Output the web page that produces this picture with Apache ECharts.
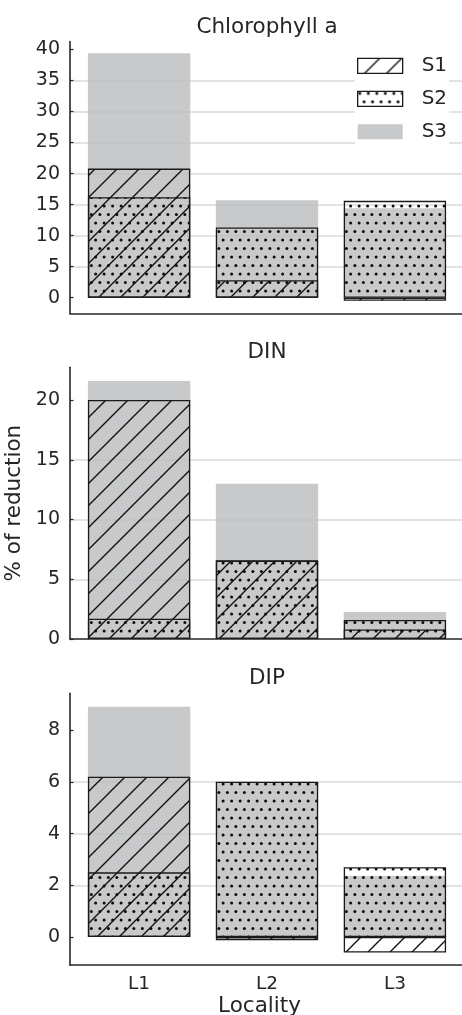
<!DOCTYPE html>
<html><head><meta charset="utf-8">
<script src="https://cdn.jsdelivr.net/npm/echarts@6/dist/echarts.min.js"></script>
<style>html,body{margin:0;padding:0;background:#fff}#c{width:462px;height:1015px}</style>
</head><body><div id="c"></div>
<script>
// ---- data ----
const categories = ['L1', 'L2', 'L3'];
const panelTitles = ['Chlorophyll a', 'DIN', 'DIP'];
const seriesNames = ['S1', 'S2', 'S3'];
const chlS1 = [20.8, 2.8, -0.5];
const chlS2 = [16.2, 11.3, 15.6];
const chlS3 = [39.4, 15.7, 14.4];
const dinS1 = [20.0, 6.6, 0.8];
const dinS2 = [1.7, 6.55, 1.6];
const dinS3 = [21.6, 13.0, 2.26];
const dipS1 = [6.2, -0.12, -0.6];
const dipS2 = [2.5, 6.0, 2.7];
const dipS3 = [8.9, 5.98, 2.37];
const chlTicks = [0, 5, 10, 15, 20, 25, 30, 35, 40];
const dinTicks = [0, 5, 10, 15, 20];
const dipTicks = [0, 2, 4, 6, 8];
const yLabel = '% of reduction';
const xLabel = 'Locality';

// ---- styling ----
const FONT = 'DejaVu Sans';
const TXT = '#262626';
const GRAY = 'rgba(186,187,190,0.8)';

function hatchPattern() {
  const s = 22, c = document.createElement('canvas');
  c.width = s; c.height = s;
  const g = c.getContext('2d');
  g.strokeStyle = '#0d0d0d'; g.lineWidth = 1.35;
  g.beginPath();
  g.moveTo(-2, s + 2); g.lineTo(s + 2, -2);
  g.moveTo(-3, 3); g.lineTo(3, -3);
  g.moveTo(s - 3, s + 3); g.lineTo(s + 3, s - 3);
  g.stroke();
  return { image: c, repeat: 'repeat' };
}
function dotPattern() {
  const s = 17, c = document.createElement('canvas');
  c.width = s; c.height = s;
  const g = c.getContext('2d');
  g.fillStyle = '#0d0d0d';
  [[2.1, 2.1], [10.6, 2.1], [6.35, 10.6], [14.85, 10.6]].forEach(p => {
    g.beginPath(); g.arc(p[0], p[1], 1.5, 0, Math.PI * 2); g.fill();
  });
  return { image: c, repeat: 'repeat' };
}
const HATCH = hatchPattern();
const DOTS = dotPattern();

const panels = [
  { s: [chlS1, chlS2, chlS3], ticks: chlTicks, min: -2.52, max: 41.25, top: 41.67 },
  { s: [dinS1, dinS2, dinS3], ticks: dinTicks, min: 0, max: 22.74, top: 367.33 },
  { s: [dipS1, dipS2, dipS3], ticks: dipTicks, min: -1.08, max: 9.42, top: 693.33 }
];
const titleTops = [16.2, 341.9, 667.9];
const styles = [
  { color: HATCH, borderColor: '#1a1a1a', borderWidth: 1.3 },
  { color: DOTS, borderColor: '#1a1a1a', borderWidth: 1.3 },
  { color: GRAY, borderWidth: 0 }
];
const zs = [3, 4, 1];

const grid = [], xAxis = [], yAxis = [], series = [], title = [];
panels.forEach((p, i) => {
  grid.push({ left: 70, top: p.top, width: 394, height: 271.67, containLabel: false, outerBoundsMode: 'none' });
  title.push({
    text: panelTitles[i], left: 267, top: titleTops[i], textAlign: 'center', padding: 0,
    textStyle: { fontFamily: FONT, fontSize: 21.5, lineHeight: 21.5, fontWeight: 'normal', color: TXT }
  });
  xAxis.push({
    type: 'value', gridIndex: i, min: -0.54, max: 2.54,
    axisLine: { show: true, onZero: false, lineStyle: { color: TXT, width: 1.6 } },
    axisTick: { show: false },
    splitLine: { show: false },
    axisLabel: {
      show: i === 2, customValues: categories.map((c, k) => k),
      formatter: v => categories[Math.round(v)] || '',
      fontFamily: FONT, fontSize: 18.5, lineHeight: 18.5, color: TXT, margin: 9.5
    }
  });
  yAxis.push({
    type: 'value', gridIndex: i, min: p.min, max: p.max,
    axisLine: { show: true, onZero: false, lineStyle: { color: TXT, width: 1.6 } },
    axisTick: { show: true, inside: true, length: 3.5, customValues: p.ticks, lineStyle: { color: TXT, width: 1.2 } },
    splitLine: { show: true, showMinLine: false, showMaxLine: false, lineStyle: { color: '#dadada', width: 1.5 } },
    axisLabel: {
      customValues: p.ticks, fontFamily: FONT, fontSize: 19, color: TXT, margin: 10
    },
    name: i === 1 ? yLabel : '',
    nameLocation: 'middle', nameRotate: 90, nameGap: 30,
    nameTextStyle: { fontFamily: FONT, fontSize: 21.5, lineHeight: 21.5, color: TXT }
  });
  [0, 1, 2].forEach(k => {
    series.push({
      type: 'bar', name: seriesNames[k], xAxisIndex: i, yAxisIndex: i,
      data: categories.map((c, j) => [j, p.s[k][j]]),
      barWidth: '80%', barGap: '-100%', z: zs[k],
      itemStyle: styles[k], silent: true, animation: false
    });
  });
});

const chart = echarts.init(document.getElementById('c'), null, { renderer: 'canvas' });
chart.setOption({
  backgroundColor: '#fff',
  animation: false,
  title, grid, xAxis, yAxis, series,
  legend: {
    orient: 'vertical', left: 355, top: 50.8, padding: [5, 2, 3, 2],
    backgroundColor: '#fff', itemWidth: 45, itemHeight: 15, itemGap: 13,
    icon: 'rect',
    data: seriesNames.map((n, k) => ({ name: n, itemStyle: styles[k] })),
    textStyle: { fontFamily: FONT, fontSize: 20, lineHeight: 20, color: TXT, padding: [0, 0, 0, 14] }
  },
  graphic: [{
    type: 'text', x: 259.5, y: 1006,
    style: { text: xLabel, fontFamily: FONT, fontSize: 21.5, fill: TXT, textAlign: 'center', textVerticalAlign: 'middle' }
  }]
});
</script></body></html>
